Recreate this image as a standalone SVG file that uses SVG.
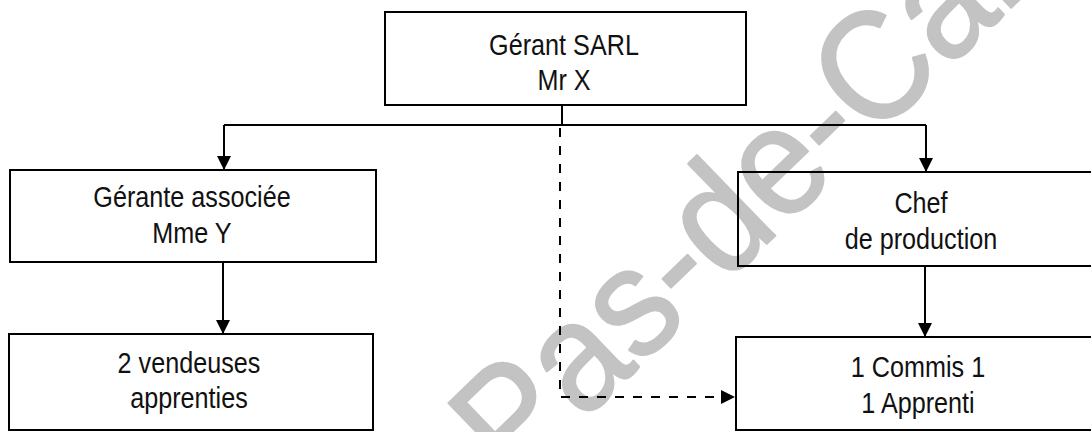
<svg xmlns="http://www.w3.org/2000/svg" width="1091" height="432" viewBox="0 0 1091 432">
<style>
.box{fill:none;stroke:#000;stroke-width:2}
.t{font-family:"Liberation Sans",Arial,sans-serif;font-size:30px;text-anchor:middle;fill:#111;transform-box:fill-box;transform-origin:center;transform:scaleX(0.84)}
.c{fill:none;stroke:#000;stroke-width:2}
.d{stroke-dasharray:9 9}
.wm{font-family:"Liberation Sans",Arial,sans-serif;font-size:155px;fill:#c3c3c3;stroke:#c3c3c3;stroke-width:2;stroke-linejoin:round}
</style>
<defs>
<marker id="ah" markerUnits="userSpaceOnUse" markerWidth="14" markerHeight="14" viewBox="0 0 14 14" refX="14" refY="7" orient="auto">
<path d="M0,0 L14,7 L0,14 Z" fill="#000"/>
</marker>
</defs>
<rect width="1091" height="432" fill="#fff"/>
<g id="watermark">
<text class="wm" x="0" y="0" transform="translate(514,488) rotate(-44) scale(0.92,1)">Pas-de-Calais</text>
</g>
<g id="n-top">
<rect class="box" x="385" y="12" width="361" height="93"/>
<text class="t" x="564" y="55">Gérant SARL</text>
<text class="t" x="564" y="90">Mr X</text>
</g>
<g id="n-gerante">
<rect class="box" x="10" y="170" width="366" height="92"/>
<text class="t" x="192" y="207">Gérante associée</text>
<text class="t" x="192" y="243">Mme Y</text>
</g>
<g id="n-vendeuses">
<rect class="box" x="9" y="334" width="364" height="96"/>
<text class="t" x="189" y="373">2 vendeuses</text>
<text class="t" x="189" y="408">apprenties</text>
</g>
<g id="n-chef">
<rect class="box" x="738" y="172" width="362" height="94"/>
<text class="t" x="921" y="213">Chef</text>
<text class="t" x="921" y="249">de production</text>
</g>
<g id="n-commis">
<rect class="box" x="736" y="337" width="364" height="93"/>
<text class="t" x="918" y="377">1 Commis 1</text>
<text class="t" x="918" y="413">1 Apprenti</text>
</g>
<g id="connectors">
<path class="c" d="M562,105 V125"/>
<path class="c" d="M224,125 H926"/>
<path class="c" d="M224,125 V170" marker-end="url(#ah)"/>
<path class="c" d="M926,125 V172" marker-end="url(#ah)"/>
<path class="c" d="M223,262 V334" marker-end="url(#ah)"/>
<path class="c" d="M925,266 V337" marker-end="url(#ah)"/>
<path class="c d" d="M560,128 V397 H735" marker-end="url(#ah)"/>
</g>
</svg>
